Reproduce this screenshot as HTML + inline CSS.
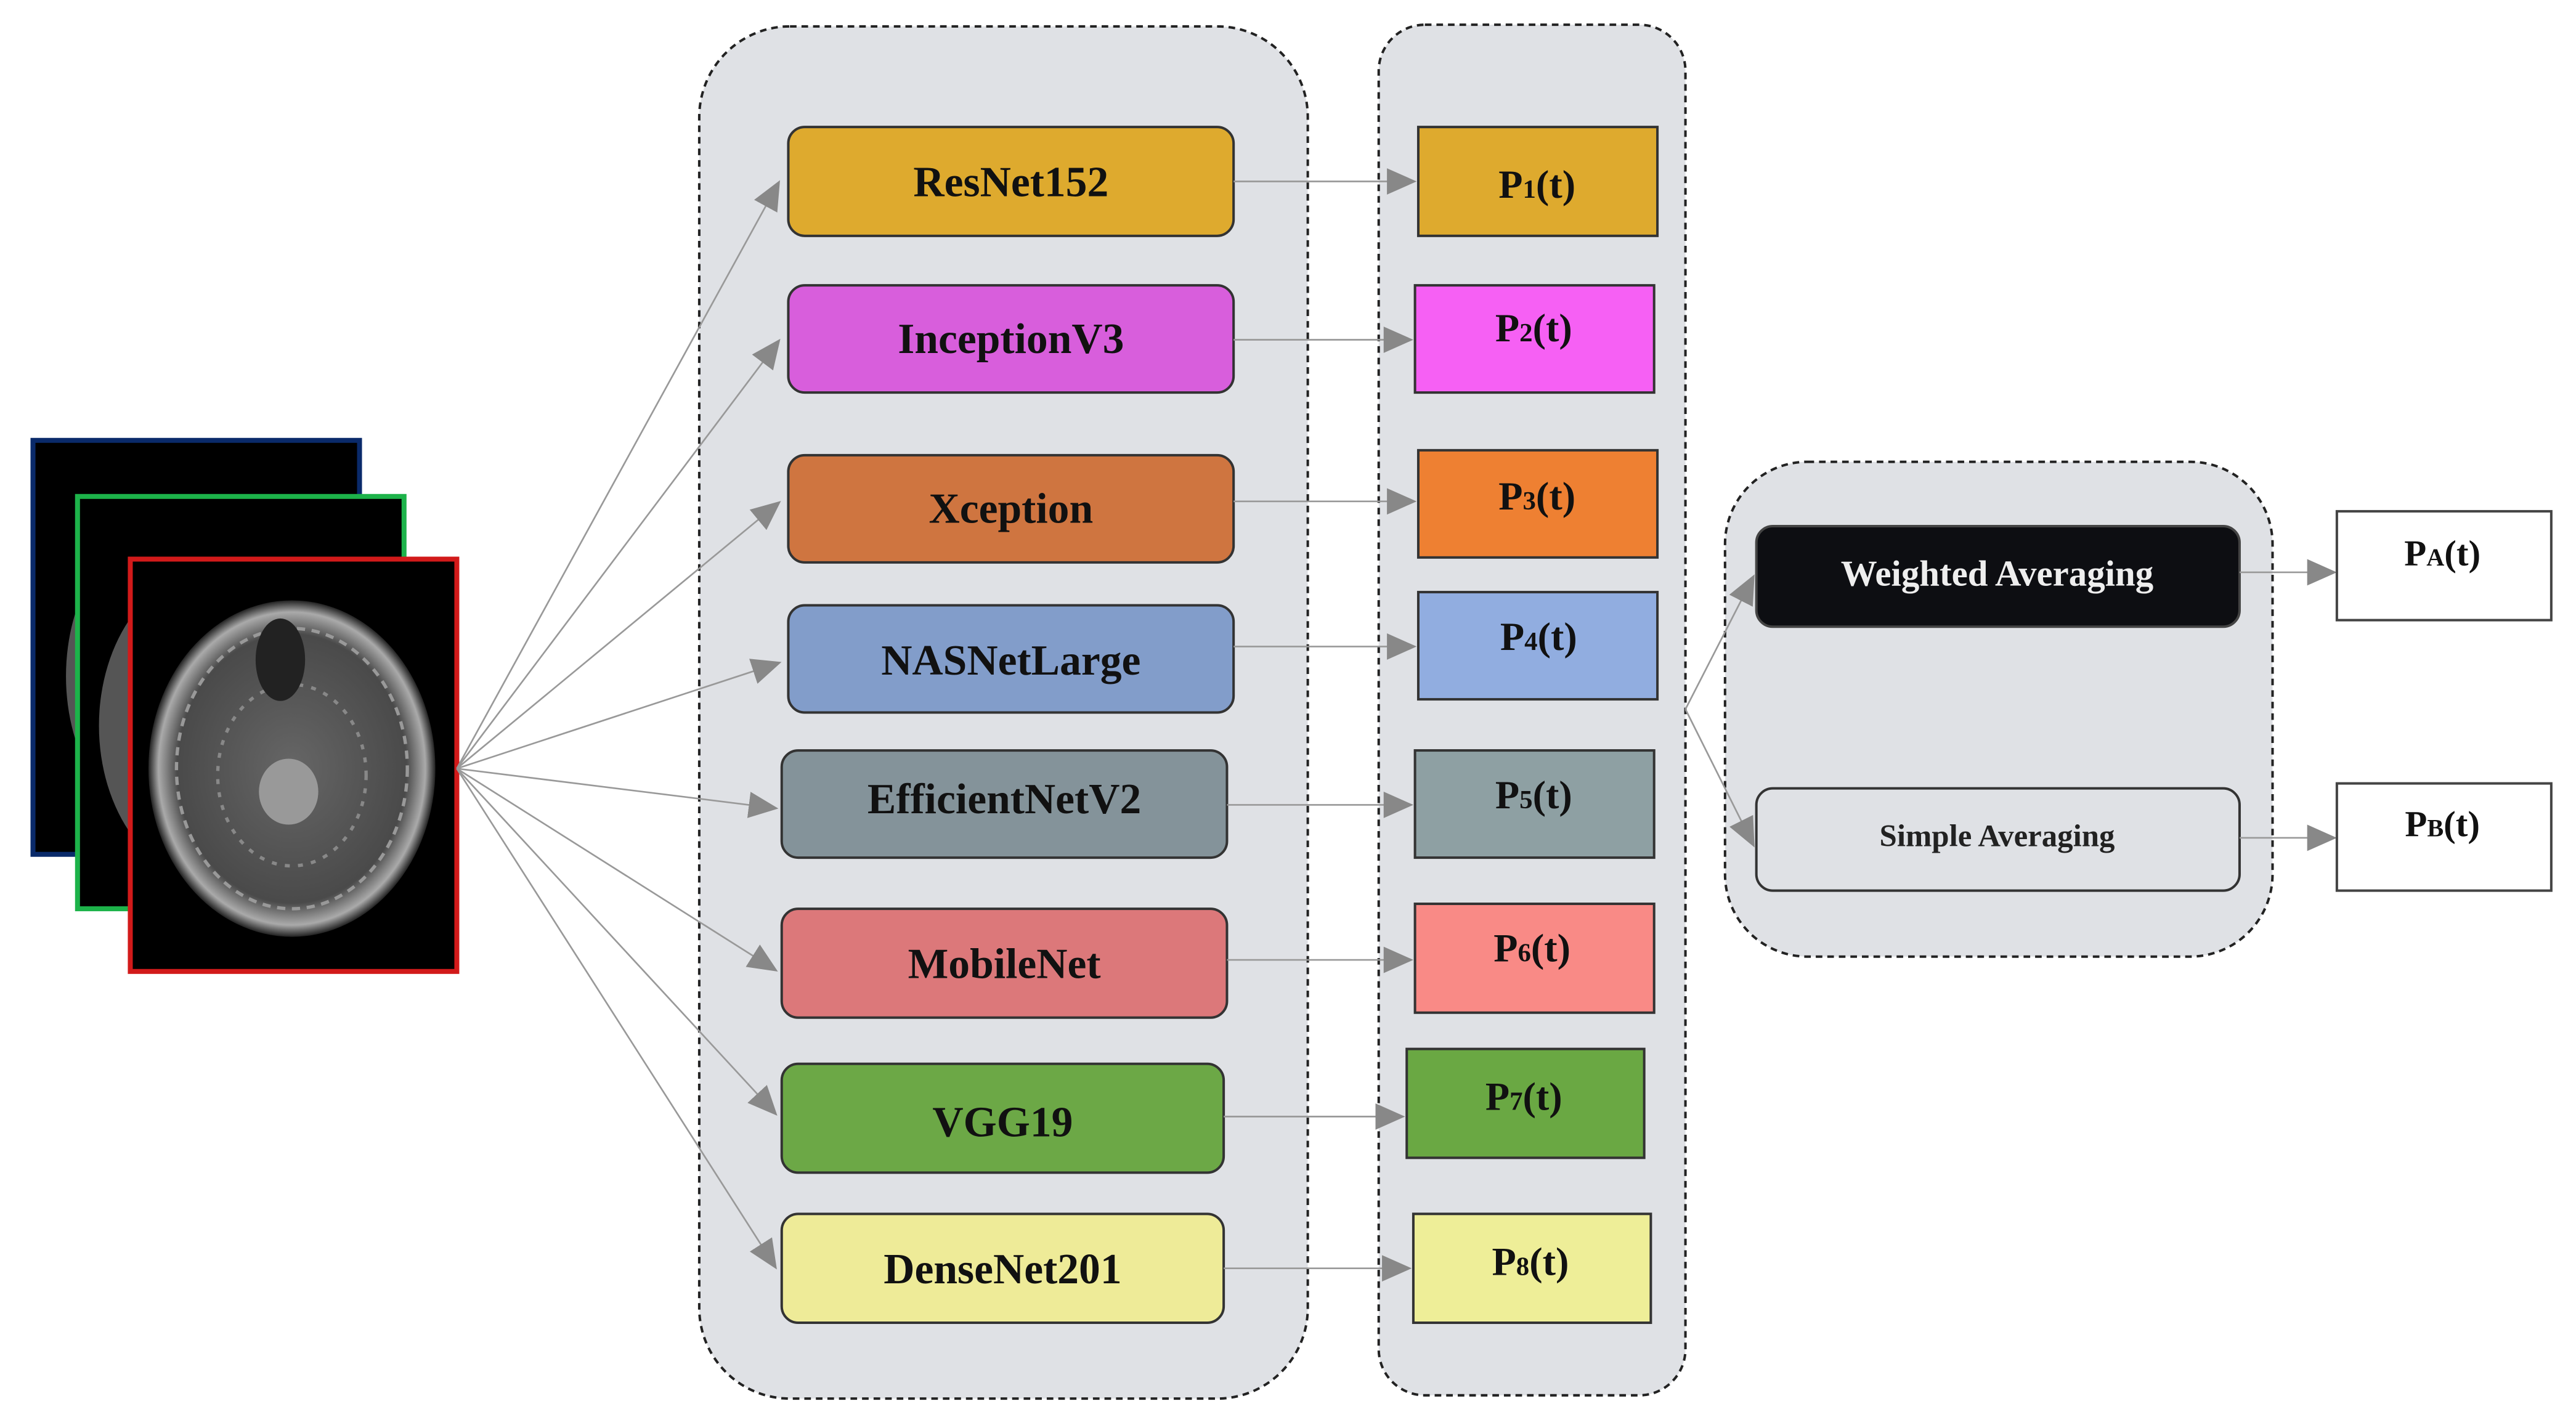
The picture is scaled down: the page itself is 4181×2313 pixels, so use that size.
<!DOCTYPE html>
<html><head><meta charset="utf-8"><style>html,body{margin:0;padding:0;background:#fff}svg{display:block}</style></head>
<body>
<svg width="4181" height="2313" viewBox="0 0 1562 864" preserveAspectRatio="none" xmlns="http://www.w3.org/2000/svg" font-family="Liberation Serif, serif" font-weight="bold">
<defs>
<marker id="ah" markerWidth="10" markerHeight="10" refX="9" refY="5" orient="auto" markerUnits="userSpaceOnUse"><path d="M0,0 L10,5 L0,10 z" fill="#888"/></marker>
<marker id="ah2" markerWidth="18" markerHeight="16" refX="16" refY="8" orient="auto" markerUnits="userSpaceOnUse"><path d="M0,0 L18,8 L0,16 z" fill="#888"/></marker>
<radialGradient id="br" cx="50%" cy="50%" r="50%"><stop offset="0" stop-color="#666"/><stop offset="0.8" stop-color="#4a4a4a"/><stop offset="0.93" stop-color="#aaa"/><stop offset="1" stop-color="#222"/></radialGradient>
</defs>
<!-- containers -->
<rect x="424" y="16" width="369" height="832" rx="55" fill="#dfe1e5" stroke="#222" stroke-width="1.5" stroke-dasharray="4,3"/>
<rect x="836" y="15" width="186" height="831" rx="28" fill="#dfe1e5" stroke="#222" stroke-width="1.5" stroke-dasharray="4,3"/>
<rect x="1046" y="280" width="332" height="300" rx="50" fill="#dfe1e5" stroke="#222" stroke-width="1.5" stroke-dasharray="4,3"/>
<!-- images -->
<rect x="20" y="267" width="198" height="251" fill="#000" stroke="#0a2a6a" stroke-width="3"/>
<ellipse cx="100" cy="410" rx="60" ry="90" fill="#555"/>
<rect x="47" y="301" width="198" height="250" fill="#000" stroke="#1db34a" stroke-width="3"/>
<ellipse cx="130" cy="440" rx="70" ry="95" fill="#555"/>
<rect x="79" y="339" width="198" height="250" fill="#000" stroke="#d21a1a" stroke-width="3"/>
<ellipse cx="177" cy="466" rx="87" ry="102" fill="url(#br)"/>
<ellipse cx="177" cy="466" rx="70" ry="85" fill="none" stroke="#999" stroke-width="2" stroke-dasharray="5,4"/>
<ellipse cx="177" cy="470" rx="45" ry="55" fill="none" stroke="#888" stroke-width="2" stroke-dasharray="3,5"/>
<ellipse cx="175" cy="480" rx="18" ry="20" fill="#999"/>
<ellipse cx="170" cy="400" rx="15" ry="25" fill="#222"/>
<!-- fan arrows -->
<g stroke="#999" stroke-width="1" fill="none" marker-end="url(#ah2)">
<line x1="277" y1="466" x2="472" y2="111"/>
<line x1="277" y1="466" x2="472" y2="207"/>
<line x1="277" y1="466" x2="472" y2="305"/>
<line x1="277" y1="466" x2="472" y2="402"/>
<line x1="277" y1="466" x2="470" y2="490"/>
<line x1="277" y1="466" x2="470" y2="588"/>
<line x1="277" y1="466" x2="470" y2="675"/>
<line x1="277" y1="466" x2="470" y2="768"/>
</g>
<!-- model boxes -->
<g stroke="#333" stroke-width="1.5" font-size="26" text-anchor="middle">
<rect x="478" y="77" width="270" height="66" rx="10" fill="#deaa2e"/>
<rect x="478" y="173" width="270" height="65" rx="10" fill="#d85edc"/>
<rect x="478" y="276" width="270" height="65" rx="10" fill="#cf7540"/>
<rect x="478" y="367" width="270" height="65" rx="10" fill="#829dca"/>
<rect x="474" y="455" width="270" height="65" rx="10" fill="#84939a"/>
<rect x="474" y="551" width="270" height="66" rx="10" fill="#dc787a"/>
<rect x="474" y="645" width="268" height="66" rx="10" fill="#6ca846"/>
<rect x="474" y="736" width="268" height="66" rx="10" fill="#eeeb98"/>
</g>
<g font-size="26" text-anchor="middle" fill="#111">
<text x="613" y="119">ResNet152</text>
<text x="613" y="214">InceptionV3</text>
<text x="613" y="317">Xception</text>
<text x="613" y="409">NASNetLarge</text>
<text x="609" y="493">EfficientNetV2</text>
<text x="609" y="593">MobileNet</text>
<text x="608" y="689">VGG19</text>
<text x="608" y="778">DenseNet201</text>
</g>
<!-- connectors model -> P -->
<g stroke="#999" stroke-width="1" marker-end="url(#ah2)">
<line x1="748" y1="110" x2="857" y2="110"/>
<line x1="748" y1="206" x2="855" y2="206"/>
<line x1="748" y1="304" x2="857" y2="304"/>
<line x1="748" y1="392" x2="857" y2="392"/>
<line x1="744" y1="488" x2="855" y2="488"/>
<line x1="744" y1="582" x2="855" y2="582"/>
<line x1="742" y1="677" x2="850" y2="677"/>
<line x1="742" y1="769" x2="854" y2="769"/>
</g>
<!-- P boxes -->
<g stroke="#333" stroke-width="1.5">
<rect x="860" y="77" width="145" height="66" fill="#deaa2e"/>
<rect x="858" y="173" width="145" height="65" fill="#f660f4"/>
<rect x="860" y="273" width="145" height="65" fill="#ee8032"/>
<rect x="860" y="359" width="145" height="65" fill="#91ade0"/>
<rect x="858" y="455" width="145" height="65" fill="#8ea0a3"/>
<rect x="858" y="548" width="145" height="66" fill="#f98a86"/>
<rect x="853" y="636" width="144" height="66" fill="#6aa843"/>
<rect x="857" y="736" width="144" height="66" fill="#eeee98"/>
</g>
<g font-size="24" text-anchor="middle" fill="#111">
<text x="932" y="120">P<tspan font-size="16">1</tspan>(t)</text>
<text x="930" y="207">P<tspan font-size="16">2</tspan>(t)</text>
<text x="932" y="309">P<tspan font-size="16">3</tspan>(t)</text>
<text x="933" y="394">P<tspan font-size="16">4</tspan>(t)</text>
<text x="930" y="490">P<tspan font-size="16">5</tspan>(t)</text>
<text x="929" y="583">P<tspan font-size="16">6</tspan>(t)</text>
<text x="924" y="673">P<tspan font-size="16">7</tspan>(t)</text>
<text x="928" y="773">P<tspan font-size="16">8</tspan>(t)</text>
</g>
<!-- P -> averaging -->
<g stroke="#999" stroke-width="1" marker-end="url(#ah2)">
<line x1="1022" y1="430" x2="1063" y2="350"/>
<line x1="1022" y1="430" x2="1063" y2="512"/>
</g>
<rect x="1065" y="319" width="293" height="61" rx="10" fill="#0d0e12" stroke="#444" stroke-width="1.5"/>
<text x="1211" y="355" font-size="22" text-anchor="middle" fill="#eee">Weighted Averaging</text>
<rect x="1065" y="478" width="293" height="62" rx="10" fill="#dfe1e5" stroke="#333" stroke-width="1.5"/>
<text x="1211" y="513" font-size="19" text-anchor="middle" fill="#222">Simple Averaging</text>
<g stroke="#999" stroke-width="1" marker-end="url(#ah2)">
<line x1="1358" y1="347" x2="1415" y2="347"/>
<line x1="1358" y1="508" x2="1415" y2="508"/>
</g>
<rect x="1417" y="310" width="130" height="66" fill="#fff" stroke="#444" stroke-width="1.5"/>
<rect x="1417" y="475" width="130" height="65" fill="#fff" stroke="#444" stroke-width="1.5"/>
<g font-size="22" text-anchor="middle" fill="#111">
<text x="1481" y="343">P<tspan font-size="15">A</tspan>(t)</text>
<text x="1481" y="507">P<tspan font-size="15">B</tspan>(t)</text>
</g>
</svg>
</body></html>
